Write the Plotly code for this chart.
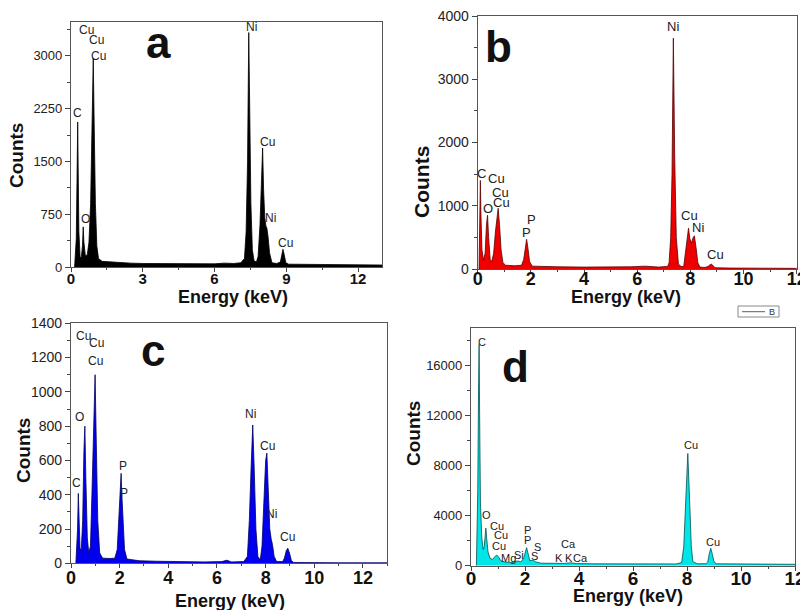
import plotly.graph_objects as go

W, H = 808, 610
OFF = 8  # the page body margin shifts the figure by 8 px; compensate
FONT = "Liberation Sans, Arial, sans-serif"

# ---------------- data ----------------
# Panel a (black)
energy_a = [0.15, 0.17, 0.22, 0.25, 0.28, 0.30, 0.33, 0.38, 0.43, 0.48, 0.51, 0.54, 0.60, 0.68,
            0.75, 0.82, 0.88, 0.93, 0.97, 1.02, 1.08, 1.15, 1.3, 1.7, 2.0, 2.5, 3.0, 4.0, 5.0,
            6.0, 6.4, 6.8, 7.1, 7.25, 7.32, 7.38, 7.43, 7.47, 7.52, 7.58, 7.65, 7.75, 7.82,
            7.90, 7.96, 8.01, 8.05, 8.10, 8.15, 8.19, 8.24, 8.30, 8.40, 8.6, 8.75, 8.82, 8.86,
            8.91, 8.98, 9.1, 10.0, 11.0, 12.0, 13.0]
counts_a = [0, 100, 400, 1200, 2060, 1400, 500, 150, 130, 300, 570, 350, 160, 170,
            350, 900, 1900, 2960, 2000, 900, 300, 120, 80, 70, 60, 55, 50, 45, 40,
            45, 55, 50, 60, 120, 500, 1500, 3330, 2200, 900, 250, 90, 70, 150,
            600, 1200, 1690, 1100, 700, 580, 550, 420, 200, 60, 50, 70, 200, 252,
            180, 60, 40, 35, 30, 30, 28]
labels_a = ["Cu", "Cu", "Cu", "C", "O", "Ni", "Cu", "Ni", "Cu"]
label_x_a = [0.65, 1.07, 1.14, 0.26, 0.61, 7.53, 8.22, 8.32, 8.96]
label_y_a = [3361, 3219, 3001, 2186, 678, 3409, 1782, 692, 346]

# Panel b (red)
energy_b = [0.05, 0.06, 0.08, 0.10, 0.12, 0.16, 0.22, 0.28, 0.33, 0.37, 0.41, 0.47, 0.53, 0.60,
            0.67, 0.73, 0.77, 0.82, 0.88, 0.95, 1.05, 1.4, 1.65, 1.73, 1.79, 1.84, 1.89, 1.95,
            2.05, 2.5, 3.0, 4.0, 5.0, 5.8, 6.3, 6.8, 7.1, 7.15, 7.2, 7.26, 7.31, 7.36, 7.41,
            7.47, 7.55, 7.65, 7.75, 7.80, 7.87, 7.93, 7.98, 8.04, 8.10, 8.15, 8.21, 8.28, 8.36,
            8.55, 8.66, 8.73, 8.78, 8.84, 8.93, 9.5, 10.0, 11.0, 12.0]
counts_b = [0, 300, 1000, 1400, 900, 300, 140, 250, 700, 850, 500, 150, 120, 250,
            600, 900, 960, 700, 300, 100, 60, 50, 60, 150, 350, 470, 330, 120,
            45, 35, 35, 30, 30, 35, 45, 30, 40, 45, 100, 500, 1500, 3650, 1800,
            500, 80, 40, 40, 200, 500, 645, 480, 410, 490, 525, 350, 100, 30,
            25, 40, 70, 80, 60, 20, 15, 15, 10, 10]
labels_b = ["C", "Cu", "Cu", "Cu", "O", "P", "P", "Ni", "Cu", "Ni", "Cu"]
label_x_b = [0.15, 0.71, 0.87, 0.90, 0.38, 2.03, 1.84, 7.36, 7.96, 8.30, 8.93]
label_y_b = [1513, 1423, 1206, 1054, 960, 775, 580, 3831, 838, 653, 237]

# Panel c (blue)
energy_c = [0.20, 0.23, 0.27, 0.30, 0.33, 0.37, 0.42, 0.48, 0.53, 0.57, 0.61, 0.67, 0.73, 0.80,
            0.86, 0.93, 0.99, 1.04, 1.10, 1.18, 1.30, 1.60, 1.80, 1.90, 1.97, 2.02, 2.06, 2.09,
            2.14, 2.20, 2.30, 2.8, 3.5, 4.5, 5.5, 6.2, 6.4, 6.6, 7.1, 7.25, 7.33, 7.40, 7.47,
            7.53, 7.60, 7.68, 7.78, 7.85, 7.93, 8.00, 8.05, 8.10, 8.17, 8.23, 8.28, 8.35, 8.45,
            8.70, 8.77, 8.85, 8.91, 8.98, 9.06, 9.15, 10.0, 11.0, 13.0]
counts_c = [0, 60, 200, 408, 250, 90, 70, 250, 650, 800, 500, 150, 60, 100,
            400, 800, 1100, 700, 250, 60, 30, 28, 30, 80, 250, 400, 525, 400,
            250, 80, 25, 15, 12, 8, 8, 10, 18, 8, 10, 40, 250, 550, 807,
            550, 200, 40, 20, 100, 400, 600, 642, 450, 200, 140, 110, 40, 10,
            10, 30, 75, 88, 60, 15, 5, 3, 3, 3]
labels_c = ["Cu", "Cu", "Cu", "O", "C", "P", "P", "Ni", "Cu", "Ni", "Cu"]
label_x_c = [0.51, 1.04, 1.00, 0.35, 0.24, 2.13, 2.16, 7.37, 8.06, 8.24, 8.88]
label_y_c = [1326, 1283, 1180, 855, 470, 569, 412, 871, 686, 286, 152]

# Panel d (cyan)
energy_d = [0.20, 0.22, 0.25, 0.28, 0.30, 0.32, 0.35, 0.40, 0.45, 0.49, 0.52, 0.55, 0.58, 0.63,
            0.70, 0.80, 0.88, 0.95, 1.02, 1.10, 1.25, 1.35, 1.50, 1.74, 1.85, 1.95, 2.02, 2.06,
            2.11, 2.18, 2.31, 2.40, 2.6, 3.0, 3.3, 3.45, 3.69, 3.9, 4.5, 5.0, 6.0, 7.0, 7.6,
            7.8, 7.88, 7.95, 8.03, 8.10, 8.16, 8.22, 8.4, 8.7, 8.77, 8.83, 8.88, 8.94, 9.0,
            9.1, 10.0, 11.0, 12.0]
counts_d = [0, 2000, 6000, 14000, 17650, 12000, 5000, 2200, 1300, 1500, 2600, 3000, 2200, 1100,
            600, 500, 700, 860, 700, 400, 300, 280, 250, 380, 300, 600, 1200, 1440,
            1000, 400, 450, 300, 200, 180, 220, 180, 230, 170, 150, 150, 130, 140, 140,
            250, 1500, 5000, 8950, 5000, 1500, 300, 150, 160, 300, 1000, 1390, 900, 300,
            150, 130, 120, 110]
labels_d = ["C", "O", "Cu", "Cu", "Cu", "Mg", "Si", "P", "P", "S", "S",
            "Ca", "K", "K", "Ca", "Cu", "Cu"]
label_x_d = [0.42, 0.58, 0.95, 1.10, 1.04, 1.38, 1.79, 2.11, 2.09, 2.47, 2.37,
             3.60, 3.27, 3.63, 4.04, 8.14, 8.98]
label_y_d = [17872, 4056, 3200, 2456, 1600, 640, 832, 2856, 2056, 1496, 776,
             1736, 640, 640, 640, 9600, 1872]

x_ticks_a = [0, 3, 6, 9, 12]
y_ticks_a = [0, 750, 1500, 2250, 3000]
x_ticks_b = [0, 2, 4, 6, 8, 10, 12]
y_ticks_b = [0, 1000, 2000, 3000, 4000]
x_ticks_c = [0, 2, 4, 6, 8, 10, 12]
y_ticks_c = [0, 200, 400, 600, 800, 1000, 1200, 1400]
x_ticks_d = [0, 2, 4, 6, 8, 10, 12]
y_ticks_d = [0, 4000, 8000, 12000, 16000]

# ---------------- layout helpers ----------------
def px(xp):
    return (xp - OFF) / W

def py(yp):
    return 1 - (yp - OFF) / H

panels = [
    dict(key="", frame=(71, 382, 22, 267), xr=[0, 13], yr=[0, 3480], fill="#000000", line="#000000",
         x=energy_a, y=counts_a, lt=labels_a, lx=label_x_a, ly=label_y_a,
         xt=x_ticks_a, yt=y_ticks_a, ym=375, xm=1.5, lf=12, ytf=13, xtf=15, so=-6),
    dict(key="2", frame=(477.7, 796.7, 16, 269), xr=[0, 12], yr=[0, 4000], fill="#ee0000", line="#5a0000",
         x=energy_b, y=counts_b, lt=labels_b, lx=label_x_b, ly=label_y_b,
         xt=x_ticks_b, yt=y_ticks_b, ym=500, xm=1, lf=13, ytf=14, xtf=18, so=-11),
    dict(key="3", frame=(71, 387.3, 323.3, 563.3), xr=[0, 13], yr=[0, 1400], fill="#0000ee", line="#00005a",
         x=energy_c, y=counts_c, lt=labels_c, lx=label_x_c, ly=label_y_c,
         xt=x_ticks_c, yt=y_ticks_c, ym=100, xm=1, lf=12, ytf=14, xtf=18, so=-6),
    dict(key="4", frame=(471, 795, 328.2, 565.7), xr=[0, 12], yr=[0, 18950], fill="#00e5e5", line="#005050",
         x=energy_d, y=counts_d, lt=labels_d, lx=label_x_d, ly=label_y_d,
         xt=x_ticks_d, yt=y_ticks_d, ym=2000, xm=1, lf=11, ytf=13, xtf=19, so=-9),
]

fig = go.Figure()
layout = dict(width=W, height=H, autosize=False, margin=dict(l=0, r=0, t=0, b=0, pad=0),
              paper_bgcolor="white", plot_bgcolor="white", showlegend=False,
              font=dict(family=FONT, color="#222222"))
annotations = []

for p in panels:
    k = p["key"]
    l, r, t, b = p["frame"]
    fig.add_trace(go.Scatter(x=p["x"], y=p["y"], mode="lines", fill="tozeroy",
                             fillcolor=p["fill"], line=dict(color=p["line"], width=0.8),
                             xaxis="x" + k, yaxis="y" + k, hoverinfo="skip"))
    layout["xaxis" + k] = dict(domain=[px(l), px(r)], range=p["xr"], anchor="y" + k, automargin=False,
                               tickmode="array", tickvals=p["xt"], ticks="outside", ticklen=4,
                               ticklabelstandoff=p["so"], ticklabeloverflow="allow",
                               tickcolor="#444", showline=True, linecolor="#555", linewidth=1.2,
                               mirror=True, showgrid=False, zeroline=False,
                               minor=dict(ticks="outside", ticklen=2, dtick=p["xm"], tickcolor="#444"),
                               tickfont=dict(size=p["xtf"], family=FONT, color="#111", weight="bold"))
    layout["yaxis" + k] = dict(domain=[py(b), py(t)], range=p["yr"], anchor="x" + k, automargin=False,
                               tickmode="array", tickvals=p["yt"], ticktext=[str(v) for v in p["yt"]],
                               ticks="outside", ticklen=5, ticklabeloverflow="allow",
                               tickcolor="#444", showline=True, linecolor="#555", linewidth=1.2,
                               mirror=True, showgrid=False, zeroline=False,
                               minor=dict(ticks="outside", ticklen=3, dtick=p["ym"], tickcolor="#444"),
                               tickfont=dict(size=p["ytf"], family=FONT, color="#222"))
    for txt, xx, yy in zip(p["lt"], p["lx"], p["ly"]):
        annotations.append(dict(text=txt, x=xx, y=yy, xref="x" + k, yref="y" + k,
                                showarrow=False, xanchor="center", yanchor="middle",
                                font=dict(size=p["lf"], family=FONT, color="#222")))

# panel letters (data coordinates)
letters = [("a", "", 3.65, 3186), ("b", "2", 0.79, 3518), ("c", "3", 3.35, 1239), ("d", "4", 1.65, 15920)]
for txt, k, xx, yy in letters:
    annotations.append(dict(text="<b>%s</b>" % txt, x=xx, y=yy, xref="x" + k, yref="y" + k,
                            showarrow=False, xanchor="center", yanchor="middle",
                            font=dict(size=44, family=FONT, color="#111")))

# axis titles (positions in the reference picture's pixels)
titles = [
    ("Counts", 16, 156, -90, 19), ("Energy (keV)", 233, 297, 0, 18),
    ("Counts", 421, 182, -90, 21), ("Energy (keV)", 626, 297, 0, 18),
    ("Counts", 23, 451, -90, 19), ("Energy (keV)", 230, 601, 0, 18),
    ("Counts", 413, 434, -90, 19), ("Energy (keV)", 628, 596, 0, 18),
]
for txt, xp, yp, ang, fs in titles:
    annotations.append(dict(text="<b>%s</b>" % txt, x=px(xp), y=py(yp), xref="paper", yref="paper",
                            showarrow=False, xanchor="center", yanchor="middle", textangle=ang,
                            font=dict(size=fs, family=FONT, color="#111")))

# small legend box "B"
annotations.append(dict(text="B", x=px(772), y=py(312), xref="paper", yref="paper", showarrow=False,
                        xanchor="center", yanchor="middle", font=dict(size=9, family=FONT, color="#333")))
shapes = [
    dict(type="rect", xref="paper", yref="paper", x0=px(738), x1=px(779), y0=py(317), y1=py(306),
         line=dict(color="#888", width=1), fillcolor="white"),
    dict(type="line", xref="paper", yref="paper", x0=px(742), x1=px(765), y0=py(311.7), y1=py(311.7),
         line=dict(color="#333", width=0.8)),
]

layout["annotations"] = annotations
layout["shapes"] = shapes
fig.update_layout(**layout)
fig.write_html("out.html")
